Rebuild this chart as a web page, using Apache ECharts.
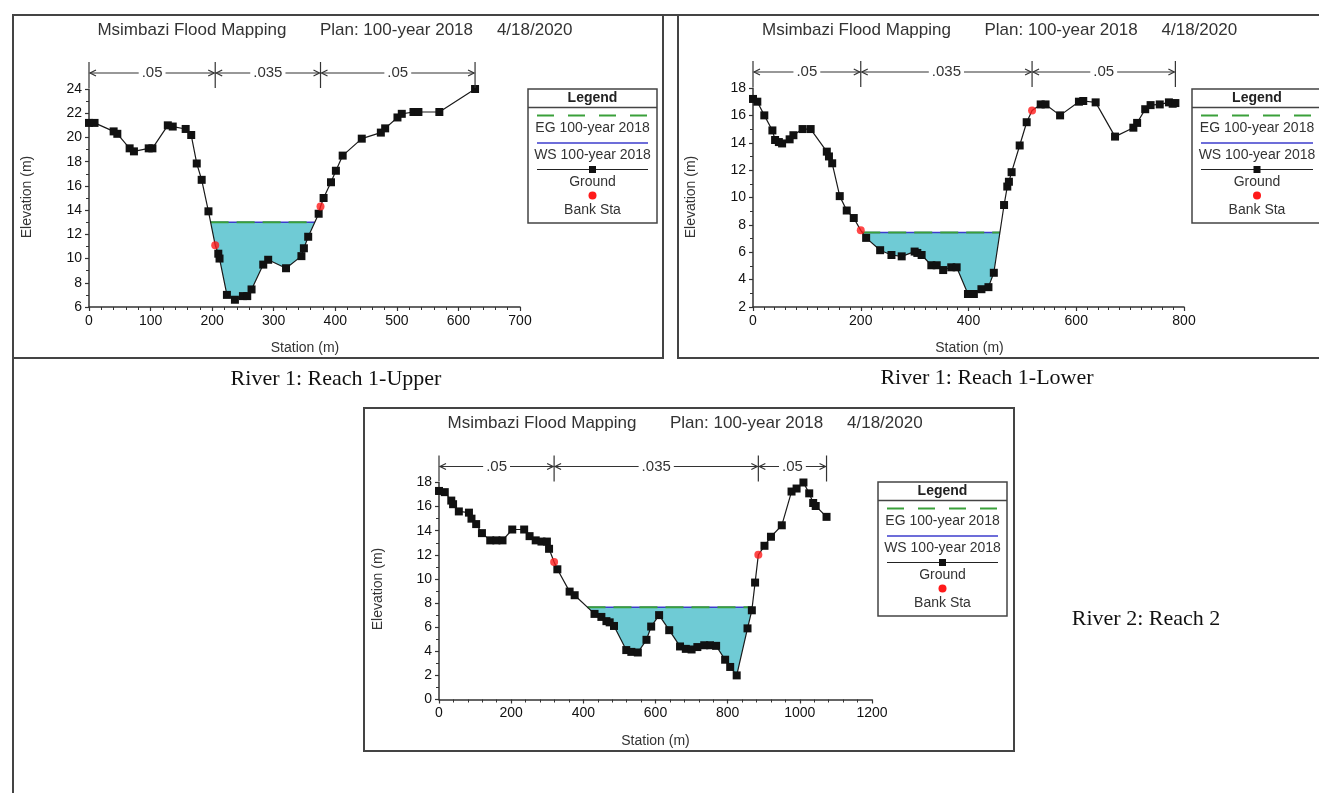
<!DOCTYPE html>
<html><head><meta charset="utf-8">
<script src="https://cdn.jsdelivr.net/npm/echarts@6/dist/echarts.min.js"></script>
<style>html,body{margin:0;padding:0;background:#fff}#c{width:1319px;height:793px}</style>
</head><body><div id="c"></div>
<script>
// ---------------- DATA ----------------
// River 1: Reach 1-Upper
const upperStation = [0, 9, 40, 46, 66, 73, 97, 103, 128, 136, 157, 166, 175, 183, 194, 205, 210, 212, 224, 237, 250, 257, 264, 283, 291, 320, 345, 349, 356, 373, 376, 381, 393, 401, 412, 443, 474, 481, 501, 508, 527, 535, 569, 627];
const upperElevation = [21.2, 21.2, 20.5, 20.3, 19.1, 18.85, 19.1, 19.1, 21.0, 20.9, 20.7, 20.2, 17.85, 16.5, 13.9, 11.1, 10.4, 10.0, 7.0, 6.6, 6.9, 6.9, 7.45, 9.5, 9.9, 9.2, 10.2, 10.85, 11.8, 13.7, 14.3, 15.0, 16.3, 17.25, 18.5, 19.9, 20.4, 20.75, 21.65, 21.95, 22.1, 22.1, 22.1, 24.0];
const upperBankSta = [[205, 11.1], [376, 14.3]];
const upperWS = 13.0;
const upperEG = 13.0;
const upperN = ['.05', '.035', '.05'];

// River 1: Reach 1-Lower
const lowerStation = [0, 8, 21, 36, 41, 48, 54, 68, 75, 92, 107, 137, 141, 147, 161, 174, 187, 200, 210, 236, 257, 276, 300, 305, 313, 331, 341, 353, 368, 378, 399, 410, 424, 437, 447, 466, 472, 475, 480, 495, 508, 518, 534, 543, 570, 605, 613, 636, 672, 706, 713, 728, 738, 755, 772, 779, 784];
const lowerElevation = [17.2, 17.0, 16.0, 14.9, 14.2, 14.05, 13.95, 14.25, 14.55, 15.0, 15.0, 13.35, 13.0, 12.5, 10.1, 9.05, 8.5, 7.6, 7.05, 6.15, 5.8, 5.7, 6.05, 5.95, 5.8, 5.05, 5.05, 4.7, 4.9, 4.9, 2.95, 2.95, 3.3, 3.45, 4.5, 9.45, 10.8, 11.15, 11.85, 13.8, 15.5, 16.35, 16.8, 16.8, 16.0, 17.0, 17.05, 16.95, 14.45, 15.1, 15.45, 16.45, 16.75, 16.8, 16.95, 16.85, 16.9];
const lowerBankSta = [[200, 7.6], [518, 16.35]];
const lowerWS = 7.45;
const lowerEG = 7.45;
const lowerN = ['.05', '.035', '.05'];

// River 2: Reach 2
const reach2Station = [0, 16, 34, 39, 55, 83, 90, 103, 119, 142, 159, 176, 203, 236, 251, 268, 284, 299, 305, 319, 328, 362, 376, 431, 450, 464, 473, 485, 519, 533, 551, 575, 588, 610, 638, 668, 684, 700, 716, 735, 751, 768, 793, 807, 825, 855, 867, 876, 885, 902, 920, 950, 977, 991, 1010, 1026, 1037, 1044, 1074];
const reach2Elevation = [17.3, 17.2, 16.5, 16.2, 15.6, 15.5, 15.0, 14.55, 13.8, 13.2, 13.2, 13.2, 14.1, 14.1, 13.55, 13.2, 13.1, 13.1, 12.5, 11.4, 10.8, 8.95, 8.65, 7.1, 6.85, 6.5, 6.4, 6.1, 4.1, 3.95, 3.9, 4.95, 6.05, 7.0, 5.75, 4.4, 4.2, 4.15, 4.35, 4.5, 4.5, 4.45, 3.3, 2.7, 2.0, 5.9, 7.4, 9.7, 12.0, 12.75, 13.5, 14.45, 17.25, 17.5, 18.0, 17.1, 16.3, 16.05, 15.15];
const reach2BankSta = [[319, 11.4], [885, 12.0]];
const reach2WS = 7.65;
const reach2EG = 7.65;
const reach2N = ['.05', '.035', '.05'];

// axis ranges
const xRanges = [[0, 700, 100, 5], [0, 800, 200, 10], [0, 1200, 200, 5]];
const yRanges = [[6, 24, 2], [2, 18, 2], [0, 18, 2]];

const titleParts = ['Msimbazi Flood Mapping', 'Plan: 100-year 2018', '4/18/2020'];
const captions = ['River 1: Reach 1-Upper', 'River 1: Reach 1-Lower', 'River 2: Reach 2'];
const legendItems = ['EG 100-year 2018', 'WS 100-year 2018', 'Ground', 'Bank Sta'];

// ---------------- CHART ----------------
const FONT = '"Liberation Sans", Arial, sans-serif';
const chart = echarts.init(document.getElementById('c'), null, {renderer: 'canvas'});

function waterPolygon(st, el, level) {
  const pts = [];
  for (let i = 0; i < st.length; i++) {
    if (el[i] <= level) pts.push([st[i], el[i]]);
    if (i < st.length - 1) {
      const d0 = el[i] - level, d1 = el[i + 1] - level;
      if (d0 * d1 < 0) {
        const t = d0 / (d0 - d1);
        pts.push([st[i] + t * (st[i + 1] - st[i]), level]);
      }
    }
  }
  return pts;
}

const panels = [
  {st: upperStation, el: upperElevation, bank: upperBankSta, ws: upperWS, eg: upperEG, n: upperN,
   grid: {left: 89, top: 89, width: 431, height: 218}},
  {st: lowerStation, el: lowerElevation, bank: lowerBankSta, ws: lowerWS, eg: lowerEG, n: lowerN,
   grid: {left: 753, top: 88, width: 431, height: 219}},
  {st: reach2Station, el: reach2Elevation, bank: reach2BankSta, ws: reach2WS, eg: reach2EG, n: reach2N,
   grid: {left: 439, top: 482.5, width: 433, height: 217}}
];

const grids = [], xAxes = [], yAxes = [], series = [];
const axisCol = '#333';
const labelStyle = {fontSize: 14, color: '#111', margin: 7, fontFamily: FONT, formatter: v => String(v)};
panels.forEach((p, i) => {
  grids.push(Object.assign({containLabel: false}, p.grid));
  const xr = xRanges[i], yr = yRanges[i];
  xAxes.push({
    type: 'value', gridIndex: i, min: xr[0], max: xr[1], interval: xr[2],
    axisLine: {show: true, onZero: false, lineStyle: {color: axisCol, width: 1.5}},
    axisTick: {show: true, length: 4, lineStyle: {color: axisCol, width: 1.2}},
    minorTick: {show: true, splitNumber: xr[3], length: 3, lineStyle: {color: axisCol, width: 1}},
    splitLine: {show: false},
    axisLabel: labelStyle
  });
  yAxes.push({
    type: 'value', gridIndex: i, min: yr[0], max: yr[1], interval: yr[2],
    axisLine: {show: true, onZero: false, lineStyle: {color: axisCol, width: 1.5}},
    axisTick: {show: true, length: 4, lineStyle: {color: axisCol, width: 1.2}},
    minorTick: {show: true, splitNumber: 2, length: 3, lineStyle: {color: axisCol, width: 1}},
    splitLine: {show: false},
    axisLabel: labelStyle
  });

  const poly = waterPolygon(p.st, p.el, p.ws);
  const xl = poly[0][0], xr2 = poly[poly.length - 1][0];
  const bankX = p.bank.map(b => b[0]);

  series.push({
    type: 'custom', xAxisIndex: i, yAxisIndex: i, silent: true, z: 1, clip: false,
    data: [[p.st[0], p.el[0]]],
    renderItem: function (params, api) {
      return {type: 'polygon', shape: {points: poly.map(q => api.coord(q))},
        style: {fill: '#6fcbd5', stroke: null}};
    }
  });
  series.push({
    type: 'line', xAxisIndex: i, yAxisIndex: i, silent: true, z: 2, showSymbol: false,
    data: [[xl, p.ws], [xr2, p.ws]], lineStyle: {color: '#3c3ccc', width: 1.5}
  });
  series.push({
    type: 'line', xAxisIndex: i, yAxisIndex: i, silent: true, z: 3, showSymbol: false,
    data: [[xl, p.eg], [xr2, p.eg]], lineStyle: {color: '#3aa03a', width: 2, type: [18, 8]}
  });
  series.push({
    type: 'line', xAxisIndex: i, yAxisIndex: i, silent: true, z: 4, clip: false,
    data: p.st.map((s, k) => [s, p.el[k]]),
    symbol: 'rect', showSymbol: true,
    symbolSize: v => (bankX.indexOf(v[0]) >= 0 ? 0 : 8),
    lineStyle: {color: '#1a1a1a', width: 1.2},
    itemStyle: {color: '#111'}
  });
  series.push({
    type: 'scatter', xAxisIndex: i, yAxisIndex: i, silent: true, z: 5,
    data: p.bank, symbol: 'circle', symbolSize: 8, itemStyle: {color: '#ff1a1a'}
  });
  // Manning's n markers
  const breaks = [p.st[0], p.bank[0][0], p.bank[1][0], p.st[p.st.length - 1]];
  const ymax = yr[1];
  const labels = p.n;
  series.push({
    type: 'custom', xAxisIndex: i, yAxisIndex: i, silent: true, z: 6, clip: false,
    data: [[breaks[0], ymax]],
    renderItem: function (params, api) {
      const top = api.coord([breaks[0], ymax])[1];
      const ly = top - 16, t0 = top - 27, t1 = top - 1;
      const xs = breaks.map(b => api.coord([b, ymax])[0]);
      const st = {stroke: '#333', lineWidth: 1.2, fill: null};
      const ch = [];
      xs.forEach(x => ch.push({type: 'line', shape: {x1: x, y1: t0, x2: x, y2: t1}, style: st}));
      for (let k = 0; k < labels.length; k++) {
        const a = xs[k] + 1, b = xs[k + 1] - 1;
        ch.push({type: 'line', shape: {x1: a, y1: ly, x2: b, y2: ly}, style: st});
        ch.push({type: 'polyline', shape: {points: [[a + 6, ly - 3], [a, ly], [a + 6, ly + 3]]}, style: st});
        ch.push({type: 'polyline', shape: {points: [[b - 6, ly - 3], [b, ly], [b - 6, ly + 3]]}, style: st});
        ch.push({type: 'text', x: (a + b) / 2, y: ly,
          style: {text: labels[k], font: '15px ' + FONT, fill: '#333', align: 'center', verticalAlign: 'middle',
            backgroundColor: '#fff', padding: [0, 3]}});
      }
      return {type: 'group', children: ch};
    }
  });
});

// ---------------- GRAPHICS (frames, titles, legends, captions) ----------------
function txt(x, y, s, font, opts) {
  opts = opts || {};
  return {type: 'text', x: x, y: y, rotation: opts.rotation || 0, silent: true,
    style: {text: s, font: font, fill: opts.fill || '#333',
      align: opts.align || 'center', verticalAlign: 'middle',
      textAlign: opts.align || 'center', textVerticalAlign: 'middle'}};
}
function ln(x1, y1, x2, y2, stroke, w, dash) {
  return {type: 'line', silent: true, shape: {x1, y1, x2, y2},
    style: {stroke: stroke, lineWidth: w, lineDash: dash || null}};
}
function frame(x, y, w, h) {
  return {type: 'rect', silent: true, shape: {x, y, width: w, height: h},
    style: {fill: null, stroke: '#444', lineWidth: 2}};
}
function legend(x, y, w) {
  const c = w / 2;
  const f = '14px ' + FONT;
  return {type: 'group', x: x, y: y, silent: true, children: [
    {type: 'rect', shape: {x: 0, y: 0, width: w, height: 134}, style: {fill: '#fff', stroke: '#444', lineWidth: 1.5}},
    txt(c, 9, 'Legend', 'bold 14px ' + FONT, {fill: '#222'}),
    ln(0, 18.5, w, 18.5, '#444', 1.5),
    ln(9, 26.5, w - 9, 26.5, '#3aa03a', 2, [17, 14]),
    txt(c, 39.5, legendItems[0], f),
    ln(9, 54, w - 9, 54, '#3c3ccc', 1.5),
    txt(c, 66.5, legendItems[1], f),
    ln(9, 80.5, w - 9, 80.5, '#222', 1.2),
    {type: 'rect', shape: {x: c - 3.5, y: 77, width: 7, height: 7}, style: {fill: '#111'}},
    txt(c, 93.5, legendItems[2], f),
    {type: 'circle', shape: {cx: c, cy: 106.5, r: 4}, style: {fill: '#ff1a1a'}},
    txt(c, 121, legendItems[3], f)
  ]};
}
function title(x0, y) {
  const f = '17px ' + FONT;
  return [txt(x0, y, titleParts[0], f, {align: 'left'}),
          txt(x0 + 222.5, y, titleParts[1], f, {align: 'left'}),
          txt(x0 + 399.5, y, titleParts[2], f, {align: 'left'})];
}
const axF = '14px ' + FONT;
const capF = '22px "Liberation Serif", "Times New Roman", serif';
const graphics = [].concat(
  [ln(13, 15, 1319, 15, '#444', 2), ln(13, 15, 13, 793, '#444', 2),
   frame(13, 15, 650, 343), frame(678, 15, 680, 343), frame(364, 408, 650, 343)],
  title(97.4, 30.7), title(762, 30.7), title(447.5, 423.3),
  [legend(528, 89, 129), legend(1192, 89, 130), legend(878, 482, 129)],
  [txt(305, 348, 'Station (m)', axF), txt(969.5, 348, 'Station (m)', axF), txt(655.5, 741, 'Station (m)', axF),
   txt(27, 197, 'Elevation (m)', axF, {rotation: Math.PI / 2}),
   txt(691.5, 197, 'Elevation (m)', axF, {rotation: Math.PI / 2}),
   txt(378, 589, 'Elevation (m)', axF, {rotation: Math.PI / 2}),
   txt(336, 379, captions[0], capF, {fill: '#111'}),
   txt(987, 378, captions[1], capF, {fill: '#111'}),
   txt(1146, 619, captions[2], capF, {fill: '#111'})]
);

chart.setOption({
  animation: false,
  backgroundColor: '#fff',
  textStyle: {fontFamily: FONT},
  grid: grids, xAxis: xAxes, yAxis: yAxes, series: series,
  graphic: {elements: graphics}
});
</script></body></html>
